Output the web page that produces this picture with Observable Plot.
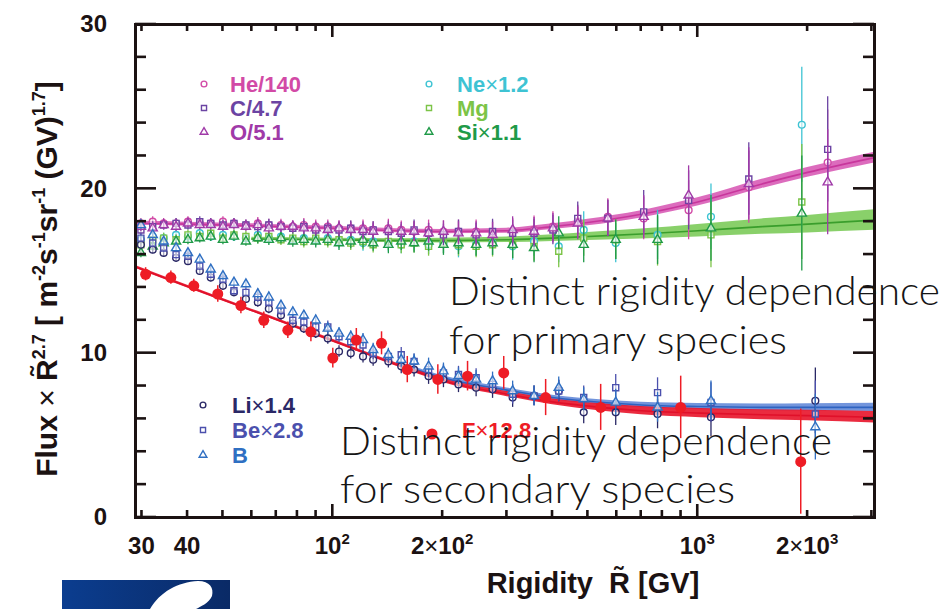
<!DOCTYPE html>
<html><head><meta charset="utf-8">
<script src="https://cdn.jsdelivr.net/npm/d3@7"></script>
<script src="https://cdn.jsdelivr.net/npm/@observablehq/plot@0.6"></script>
<style>
html,body{margin:0;padding:0;background:#fff;}
#wrap{position:relative;width:945px;height:609px;overflow:hidden;}
</style></head><body><div id="wrap"></div>
<script>
// ---------- data ----------
const rigidityHeCO = [29.8, 32.1, 34.4, 37.2, 40.1, 43.2, 46.3, 50.0, 53.6, 57.8, 62.3, 66.8, 72.1, 77.7, 83.3, 89.8, 96.9, 104, 112, 121, 129, 142, 154, 167, 183, 201, 221, 247, 274, 311, 356, 401, 469, 567, 711, 944, 1380, 2270];
const rigidityNeMgSi = [29.8, 32.1, 34.4, 37.2, 40.1, 43.2, 46.3, 50.0, 53.6, 57.8, 62.3, 66.8, 72.1, 77.7, 83.3, 89.8, 96.9, 104, 112, 121, 129, 142, 154, 167, 183, 201, 221, 247, 274, 311, 356, 416, 487, 596, 776, 1087, 1928];
const rigidityLiBeB = [29.8, 32.1, 34.4, 37.2, 40.1, 43.2, 46.3, 50.0, 53.6, 57.8, 62.3, 66.8, 72.1, 77.7, 83.3, 89.8, 96.9, 104, 112, 121, 129, 142, 154, 167, 183, 201, 221, 247, 274, 311, 356, 416, 487, 596, 776, 1087, 2100];
const rigidityF = [30.7, 36.0, 41.6, 48.4, 56.0, 64.7, 75.3, 87.1, 100, 116, 136, 160, 194, 234, 294, 383, 542, 898, 1915];

const fluxHe = [17.9,18.0,17.9,17.9,18.0,17.9,17.9,18.0,17.9,17.8,17.9,17.8,17.8,17.7,17.8,17.7,17.7,17.6,17.6,17.6,17.5,17.6,17.5,17.4,17.5,17.4,17.4,17.4,17.3,17.4,17.5,17.7,18.0,18.3,18.2,18.7,20.1,21.6];
const fluxC  = [17.5,17.7,17.8,17.9,17.8,18.0,17.9,17.8,17.9,17.8,17.7,17.8,17.7,17.6,17.7,17.5,17.6,17.5,17.6,17.4,17.5,17.4,17.3,17.5,17.3,17.2,17.4,17.2,17.4,17.3,17.3,17.5,18.2,18.2,18.6,19.3,20.6,22.4];
const fluxO  = [17.7,17.6,17.8,17.7,17.9,17.8,17.8,17.7,17.8,17.7,17.8,17.6,17.7,17.7,17.6,17.6,17.5,17.6,17.5,17.5,17.4,17.5,17.4,17.4,17.3,17.4,17.3,17.3,17.2,17.5,17.4,17.6,17.9,18.2,18.3,19.6,20.3,20.4];
const fluxNe = [16.9,17.1,17.0,17.2,17.1,17.3,17.1,17.2,17.1,17.0,17.2,17.0,17.1,16.9,17.0,16.9,17.0,16.8,16.9,16.7,16.8,16.7,16.6,16.8,16.6,16.7,16.5,16.6,16.7,16.5,16.8,16.5,17.5,16.7,17.2,18.3,23.9];
const fluxMg = [16.6,16.9,17.0,16.9,17.2,17.1,17.3,17.0,17.2,17.1,17.0,17.1,16.9,17.0,16.8,17.0,16.8,16.9,16.7,16.8,16.6,16.8,16.6,16.7,16.5,16.7,16.6,16.5,16.6,16.6,16.5,16.2,17.0,16.9,16.8,17.2,19.2];
const fluxSi = [16.1,16.5,16.7,16.8,16.9,17.0,17.1,16.9,17.1,16.8,17.0,16.9,17.0,16.8,16.9,16.8,16.9,16.7,16.8,16.9,16.7,16.6,16.8,16.7,16.8,16.6,16.7,16.6,16.7,16.6,16.4,17.3,16.6,16.9,16.9,17.6,18.5];
const fluxLi = [16.6,16.3,16.1,15.8,15.6,15.0,14.6,14.1,13.7,13.3,13.1,12.7,12.3,11.8,11.5,11.2,10.9,10.1,10.0,9.8,9.6,9.5,9.2,9.0,8.6,8.4,8.1,7.9,7.8,7.3,7.4,7.7,6.4,6.4,6.3,6.1,7.1];
const fluxBe = [17.0,16.7,16.4,16.0,15.9,15.3,14.8,14.5,13.8,13.7,13.4,13.1,12.6,12.0,11.9,11.6,11.6,11.0,10.7,10.5,10.0,9.8,9.9,9.5,9.0,8.8,8.7,8.5,8.1,7.5,7.4,7.7,7.3,7.9,7.6,7.0,6.3];
const fluxB  = [17.8,17.2,16.8,16.4,16.1,15.7,15.1,14.7,14.3,14.2,13.6,13.4,12.9,12.5,12.3,12.0,11.5,11.2,11.0,10.8,10.2,9.9,9.6,9.5,9.2,8.9,8.6,8.4,8.3,7.7,7.4,7.9,7.2,7.0,6.7,7.1,5.5];
const fluxF  = [14.8,14.6,14.1,13.6,12.9,12.0,11.4,11.3,9.7,10.8,10.6,9.0,8.4,8.6,8.8,7.3,6.7,6.7,3.4];

const errHeCO   = [0.3,0.3,0.3,0.3,0.3,0.3,0.3,0.3,0.3,0.3,0.35,0.35,0.35,0.35,0.4,0.4,0.4,0.45,0.45,0.5,0.5,0.55,0.55,0.6,0.6,0.65,0.7,0.7,0.75,0.8,0.85,0.9,1.0,1.1,1.3,1.8,2.2,3.2];
const errNeMgSi = [0.3,0.3,0.3,0.3,0.3,0.3,0.3,0.3,0.3,0.3,0.35,0.35,0.35,0.35,0.4,0.4,0.4,0.45,0.45,0.5,0.5,0.55,0.55,0.6,0.6,0.65,0.7,0.7,0.75,0.85,0.9,1.0,1.1,1.2,1.5,2.0,3.5];
const errLiBeB  = [0.25,0.25,0.25,0.25,0.25,0.25,0.25,0.25,0.25,0.25,0.3,0.3,0.3,0.3,0.3,0.3,0.35,0.35,0.35,0.4,0.4,0.4,0.45,0.45,0.5,0.5,0.5,0.55,0.55,0.6,0.6,0.65,0.7,0.8,0.9,1.2,2.0];
const errF      = [0.4,0.4,0.4,0.5,0.5,0.5,0.5,0.6,0.6,0.7,0.7,0.8,0.9,0.9,1.0,1.1,1.4,1.9,3.2];

// fitted curves (centre and half width of the shaded bands)
const fitPrimaryR   = [28.8, 40, 60, 100, 150, 200, 300, 400, 500, 700, 1000, 1500, 2000, 3050];
const fitPrimary    = [17.9, 17.85, 17.75, 17.6, 17.45, 17.4, 17.45, 17.7, 17.95, 18.45, 19.2, 20.3, 21.0, 21.9];
const fitPrimaryErr = [0.12, 0.12, 0.12, 0.12, 0.12, 0.13, 0.15, 0.17, 0.2, 0.22, 0.25, 0.28, 0.3, 0.33];
const fitGreenR     = [60, 100, 150, 200, 300, 400, 500, 700, 1000, 1500, 2000, 3050];
const fitGreen      = [16.95, 16.9, 16.85, 16.85, 16.9, 17.0, 17.1, 17.25, 17.45, 17.7, 17.85, 18.1];
const fitGreenErr   = [0.1, 0.1, 0.12, 0.14, 0.17, 0.2, 0.24, 0.3, 0.38, 0.47, 0.53, 0.62];
const fitRedR       = [28.8, 40, 60, 75, 100, 154, 214, 294, 396, 542, 700, 1020, 1500, 2000, 3050];
const fitRed        = [15.25, 14.05, 12.6, 11.8, 10.75, 9.2, 8.15, 7.55, 7.05, 6.7, 6.5, 6.35, 6.25, 6.2, 6.1];
const fitRedErr     = [0.08, 0.08, 0.08, 0.08, 0.09, 0.1, 0.12, 0.15, 0.18, 0.22, 0.25, 0.28, 0.3, 0.32, 0.35];
const fitBlueR      = [150, 200, 300, 400, 550, 700, 1000, 1500, 2000, 3050];
const fitBlue       = [9.4, 8.5, 7.75, 7.3, 7.0, 6.85, 6.75, 6.7, 6.7, 6.7];
const fitBlueErr    = [0.12, 0.12, 0.13, 0.14, 0.15, 0.16, 0.18, 0.2, 0.22, 0.25];

// axes
const xDomain = [28.8, 3050];
const yDomain = [0, 30];
const yMajorTicks = [0, 10, 20, 30];
const yMinorTicks = [2, 4, 6, 8, 12, 14, 16, 18, 22, 24, 26, 28];
const xMajorTicks = [100, 1000];
const xMinorTicks = [30, 40, 50, 60, 70, 80, 90, 200, 300, 400, 500, 600, 700, 800, 900, 2000, 3000];
const xLabelValues = [30, 40, 100, 200, 1000, 2000];
const xLabelMantissa = ["", "", "", "2", "", "2"];
const xLabelBase = ["30", "40", "10", "10", "10", "10"];
const xLabelExp = ["", "", "2", "2", "3", "3"];

// legend labels
const labelsPrimaryA = ["He/140", "C/4.7", "O/5.1"];
const labelsPrimaryB = [["Ne", "1.2"], ["Mg", ""], ["Si", "1.1"]];
const labelsSecondary = [["Li", "1.4"], ["Be", "2.8"], ["B", ""]];
const labelF = ["F", "12.8"];
const textPrimary = ["Distinct rigidity dependence", "for primary species"];
const textSecondary = ["Distinct rigidity dependence", "for secondary species"];

// ---------- styles ----------
const sty = {
  He: {c: "#d24aa6", s: "circle"}, C: {c: "#6b44a3", s: "square"}, O: {c: "#a03aa8", s: "triangle"},
  Ne: {c: "#3ec3d3", s: "circle"}, Mg: {c: "#7cc447", s: "square"}, Si: {c: "#1f9a48", s: "triangle"},
  Li: {c: "#2a2866", s: "circle"}, Be: {c: "#4b50ad", s: "square"}, B: {c: "#2f6fc2", s: "triangle"}
};
const red = "#ee1c25";

function table(R, V, E) { return R.map((r, i) => ({r, v: V[i], e: E[i]})); }
function band(R, V, E) { return R.map((r, i) => ({r, v: V[i], lo: V[i] - E[i], hi: V[i] + E[i]})); }

const series = [
  ["Ne", table(rigidityNeMgSi, fluxNe, errNeMgSi)],
  ["Mg", table(rigidityNeMgSi, fluxMg, errNeMgSi)],
  ["Si", table(rigidityNeMgSi, fluxSi, errNeMgSi)],
  ["He", table(rigidityHeCO, fluxHe, errHeCO)],
  ["C",  table(rigidityHeCO, fluxC, errHeCO)],
  ["O",  table(rigidityHeCO, fluxO, errHeCO)],
  ["Li", table(rigidityLiBeB, fluxLi, errLiBeB)],
  ["Be", table(rigidityLiBeB, fluxBe, errLiBeB)],
  ["B",  table(rigidityLiBeB, fluxB, errLiBeB)]
];
const dataF = table(rigidityF, fluxF, errF);

function bandMarks(data, fill, line, op) {
  return [
    Plot.areaY(data, {x: "r", y1: "lo", y2: "hi", fill, fillOpacity: op, curve: "monotone-x"}),
    Plot.line(data, {x: "r", y: "v", stroke: line, strokeWidth: 1.6, curve: "monotone-x"})
  ];
}

const marks = [
  ...bandMarks(band(fitBlueR, fitBlue, fitBlueErr), "#5b82d6", "#2f63c0", 0.85),
  ...bandMarks(band(fitRedR, fitRed, fitRedErr), "#e8142a", "#e0102a", 0.9),
  ...bandMarks(band(fitGreenR, fitGreen, fitGreenErr), "#6cc445", "#3a9e2c", 0.8),
  ...bandMarks(band(fitPrimaryR, fitPrimary, fitPrimaryErr), "#d652b2", "#c8369c", 0.85)
];
for (const [k, d] of series) {
  marks.push(Plot.ruleX(d, {x: "r", y1: p => p.v - p.e, y2: p => p.v + p.e, stroke: sty[k].c, strokeWidth: 1.3}));
  marks.push(Plot.dot(d, {x: "r", y: "v", symbol: sty[k].s, r: 3.4, stroke: sty[k].c, strokeWidth: 1.4, fill: "white", fillOpacity: 0.6}));
}
marks.push(Plot.ruleX(dataF, {x: "r", y1: p => Math.max(0, p.v - p.e), y2: p => p.v + p.e, stroke: red, strokeWidth: 1.5}));
marks.push(Plot.dot(dataF, {x: "r", y: "v", r: 5.5, fill: red, stroke: "none"}));
marks.push(Plot.frame({stroke: "#1b1212", strokeWidth: 3}));

const chart = Plot.plot({
  width: 945, height: 609,
  marginLeft: 135, marginRight: 71, marginTop: 24, marginBottom: 92,
  x: {type: "log", domain: xDomain, axis: null},
  y: {domain: yDomain, axis: null},
  style: {background: "white", overflow: "visible"},
  marks
});
document.getElementById("wrap").appendChild(chart);

// ---------- ticks, labels, legends drawn through the plot scales ----------
const svg = d3.select(chart);
const xs = chart.scale("x"), ys = chart.scale("y");
const [L, R] = xs.range, [B, T] = ys.range;
const ink = "#1b1212";
const tg = svg.append("g").attr("stroke", ink).attr("stroke-width", 2.6);
function yTick(v, len) {
  const y = ys.apply(v);
  tg.append("line").attr("x1", L).attr("x2", L + len).attr("y1", y).attr("y2", y);
  tg.append("line").attr("x1", R).attr("x2", R - len).attr("y1", y).attr("y2", y);
}
function xTick(v, len) {
  const x = xs.apply(v);
  tg.append("line").attr("x1", x).attr("x2", x).attr("y1", B).attr("y2", B - len);
  tg.append("line").attr("x1", x).attr("x2", x).attr("y1", T).attr("y2", T + len);
}
yMajorTicks.forEach(v => yTick(v, 21));
yMinorTicks.forEach(v => yTick(v, 11));
xMajorTicks.forEach(v => xTick(v, 13));
xMinorTicks.forEach(v => xTick(v, 7));

const font = "'Liberation Sans', Arial, Helvetica, sans-serif";
const lab = svg.append("g").attr("font-family", font).attr("font-weight", "bold").attr("fill", ink);
yMajorTicks.forEach(v => {
  lab.append("text").attr("x", L - 28).attr("y", ys.apply(v)).attr("dy", "0.35em")
    .attr("text-anchor", "end").attr("font-size", 24).text(String(v));
});
xLabelValues.forEach((v, i) => {
  const t = lab.append("text").attr("x", xs.apply(v)).attr("y", 554).attr("text-anchor", "middle").attr("font-size", 24);
  if (xLabelMantissa[i]) {
    t.append("tspan").text(xLabelMantissa[i]);
    t.append("tspan").attr("font-weight", "normal").text("×");
  }
  t.append("tspan").text(xLabelBase[i]);
  if (xLabelExp[i]) t.append("tspan").attr("font-size", 15).attr("dy", -10).text(xLabelExp[i]);
});

// axis titles
const xt = lab.append("text").attr("x", 593).attr("y", 593).attr("text-anchor", "middle").attr("font-size", 29);
xt.append("tspan").text("Rigidity  R\u0303 [GV]");

const yt = lab.append("text").attr("transform", "translate(57,279) rotate(-90)").attr("text-anchor", "middle").attr("font-size", 30);
const yParts = [["Flux ", "b"], ["\u00d7 ", "n"], ["R\u0303", "b"], ["2.7", "s"], [" [ m", "b"], ["-2", "s"], ["s", "b"], ["-1", "s"], ["sr", "b"], ["-1", "s"], [" (GV)", "b"], ["1.7", "s"], ["]", "b"]];
let up = false;
yParts.forEach(([t, k]) => {
  const sp = yt.append("tspan").text(t);
  if (k === "n") sp.attr("font-weight", "normal");
  if (k === "s") { sp.attr("font-size", 18).attr("dy", -12); up = true; }
  else if (up) { sp.attr("dy", 12); up = false; }
});

// legends
function sym(g, shape, x, y, color, filled) {
  const type = shape === "circle" ? d3.symbolCircle : shape === "square" ? d3.symbolSquare : d3.symbolTriangle;
  g.append("path").attr("d", d3.symbol(type, filled ? 95 : 26)()).attr("transform", `translate(${x},${y})`)
    .attr("fill", filled ? color : "none").attr("stroke", filled ? "none" : color).attr("stroke-width", 1.4);
}
const lg = svg.append("g").attr("font-family", font).attr("font-weight", "bold").attr("font-size", 22).attr("text-anchor", "start");
const rowsTop = [84, 108, 132];
["He", "C", "O"].forEach((k, i) => {
  sym(lg, sty[k].s, 204, rowsTop[i], sty[k].c);
  lg.append("text").attr("x", 230).attr("y", rowsTop[i]).attr("dy", "0.36em").attr("text-anchor", "start").attr("fill", sty[k].c).text(labelsPrimaryA[i]);
});
["Ne", "Mg", "Si"].forEach((k, i) => {
  sym(lg, sty[k].s, 429, rowsTop[i], sty[k].c);
  const t = lg.append("text").attr("x", 457).attr("y", rowsTop[i]).attr("dy", "0.36em").attr("text-anchor", "start").attr("fill", sty[k].c);
  t.append("tspan").text(labelsPrimaryB[i][0]);
  if (labelsPrimaryB[i][1]) { t.append("tspan").attr("font-weight", "normal").text("×"); t.append("tspan").text(labelsPrimaryB[i][1]); }
});
const rowsBot = [405, 430, 455];
["Li", "Be", "B"].forEach((k, i) => {
  sym(lg, sty[k].s, 203, rowsBot[i], sty[k].c);
  const t = lg.append("text").attr("x", 232).attr("y", rowsBot[i]).attr("dy", "0.36em").attr("text-anchor", "start").attr("fill", sty[k].c);
  t.append("tspan").text(labelsSecondary[i][0]);
  if (labelsSecondary[i][1]) { t.append("tspan").attr("font-weight", "normal").text("×"); t.append("tspan").text(labelsSecondary[i][1]); }
});
sym(lg, "circle", 432, 434, red, true);
const ft = lg.append("text").attr("x", 462).attr("y", 430).attr("dy", "0.36em").attr("text-anchor", "start").attr("fill", red);
ft.append("tspan").text(labelF[0]); ft.append("tspan").attr("font-weight", "normal").text("×"); ft.append("tspan").text(labelF[1]);

// overlay annotation text
const ov = svg.append("g").attr("font-family", "Lato, Roboto, 'Open Sans', sans-serif").attr("font-weight", 300).attr("font-size", 40).attr("fill", "#151515").attr("text-anchor", "start");
ov.append("text").attr("x", 449).attr("y", 305).attr("textLength", 491).attr("lengthAdjust", "spacingAndGlyphs").text(textPrimary[0]);
ov.append("text").attr("x", 449).attr("y", 354).attr("textLength", 338).attr("lengthAdjust", "spacingAndGlyphs").text(textPrimary[1]);
ov.append("text").attr("x", 340).attr("y", 455).attr("textLength", 492).attr("lengthAdjust", "spacingAndGlyphs").text(textSecondary[0]);
ov.append("text").attr("x", 340).attr("y", 503).attr("textLength", 395).attr("lengthAdjust", "spacingAndGlyphs").text(textSecondary[1]);

// logo fragment at lower left
const defs = svg.append("defs");
const gr = defs.append("linearGradient").attr("id", "lg1").attr("x1", 0).attr("x2", 1);
gr.append("stop").attr("offset", 0).attr("stop-color", "#0b3d8f");
gr.append("stop").attr("offset", 1).attr("stop-color", "#0a2a66");
svg.append("rect").attr("x", 62).attr("y", 580).attr("width", 168).attr("height", 29).attr("fill", "url(#lg1)");
svg.append("path").attr("d", "M150,609 C160,592 178,582 198,581 C210,581 214,588 212,596 C209,603 200,607 196,609 Z").attr("fill", "white");
</script>
</body></html>
